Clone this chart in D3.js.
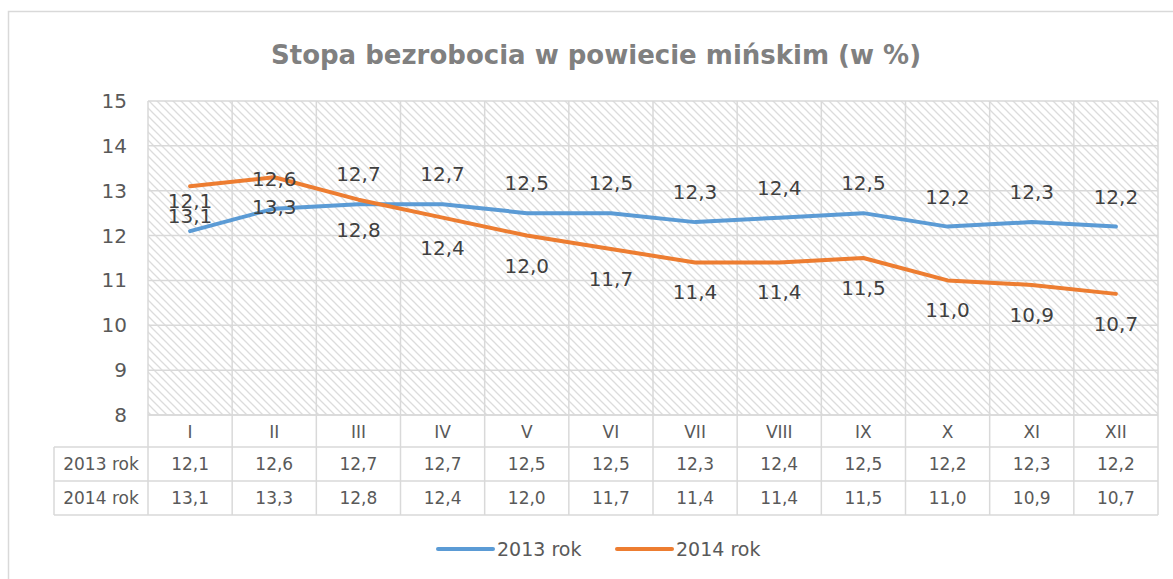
<!DOCTYPE html>
<html>
<head>
<meta charset="utf-8">
<script src="https://cdn.jsdelivr.net/npm/d3@7"></script>
<style>
  body { margin: 0; background: #fff; }
  text { font-family: "DejaVu Sans", Verdana, sans-serif; }
</style>
</head>
<body>
<script>
var width = 1173;
var height = 579;

// dane
var months = ["I", "II", "III", "IV", "V", "VI", "VII", "VIII", "IX", "X", "XI", "XII"];
var rok2013 = [12.1, 12.6, 12.7, 12.7, 12.5, 12.5, 12.3, 12.4, 12.5, 12.2, 12.3, 12.2];
var rok2014 = [13.1, 13.3, 12.8, 12.4, 12.0, 11.7, 11.4, 11.4, 11.5, 11.0, 10.9, 10.7];
var seriesNames = ["2013 rok", "2014 rok"];
var yTicks = [8, 9, 10, 11, 12, 13, 14, 15];

var colors = ["#5B9BD5", "#ED7D31"];
var fmt = function(v) { return v.toFixed(1).replace(".", ","); };

var svg = d3.select("body").append("svg")
  .attr("width", width)
  .attr("height", height);

// wzór kreskowania tła
var defs = svg.append("defs");
var pat = defs.append("pattern")
  .attr("id", "hatch")
  .attr("patternUnits", "userSpaceOnUse")
  .attr("width", 8).attr("height", 8);
pat.append("rect").attr("width", 8).attr("height", 8).attr("fill", "#fff");
pat.append("path")
  .attr("d", "M-2,-2 L10,10 M-2,6 L2,10 M6,-2 L10,2")
  .attr("stroke", "#dcdcdc")
  .attr("stroke-width", 1.3);

// ramka wykresu
svg.append("rect")
  .attr("x", 8.5).attr("y", 11.5)
  .attr("width", 1180).attr("height", 600)
  .attr("fill", "none")
  .attr("stroke", "#d9d9d9")
  .attr("stroke-width", 1.5);

var pLeft = 148, pRight = 1158, pTop = 101, pBottom = 415;

var x = d3.scaleBand().domain(months).range([pLeft, pRight]);
var y = d3.scaleLinear().domain([8, 15]).range([pBottom, pTop]);

// tytuł
svg.append("text")
  .attr("x", 596).attr("y", 64)
  .attr("text-anchor", "middle")
  .attr("font-size", 26)
  .attr("font-weight", "bold")
  .attr("fill", "#808080")
  .text("Stopa bezrobocia w powiecie mińskim (w %)");

// tło obszaru
svg.append("rect")
  .attr("x", pLeft).attr("y", pTop)
  .attr("width", pRight - pLeft).attr("height", pBottom - pTop)
  .attr("fill", "url(#hatch)");

// siatka pozioma
svg.append("g").selectAll("line")
  .data(yTicks)
  .enter().append("line")
  .attr("x1", pLeft).attr("x2", pRight)
  .attr("y1", function(d) { return y(d); })
  .attr("y2", function(d) { return y(d); })
  .attr("stroke", "#d9d9d9")
  .attr("stroke-width", 1.5);

// siatka pionowa (razem z tabelą)
var tableTop = pBottom, rowH = [32, 34, 34];
var tableBottom = tableTop + rowH[0] + rowH[1] + rowH[2];
var bounds = months.map(function(m) { return x(m); }).concat([pRight]);
svg.append("g").selectAll("line")
  .data(bounds)
  .enter().append("line")
  .attr("x1", function(d) { return d; })
  .attr("x2", function(d) { return d; })
  .attr("y1", pTop)
  .attr("y2", tableBottom)
  .attr("stroke", "#d9d9d9")
  .attr("stroke-width", 1.5);

// oś Y - etykiety
svg.append("g").selectAll("text")
  .data(yTicks)
  .enter().append("text")
  .attr("x", 127)
  .attr("y", function(d) { return y(d) + 7; })
  .attr("text-anchor", "end")
  .attr("font-size", 20)
  .attr("fill", "#595959")
  .text(function(d) { return d; });

// tabela danych
var rowY = [tableTop, tableTop + rowH[0], tableTop + rowH[0] + rowH[1], tableBottom];
var hl = svg.append("g");
hl.append("line").attr("x1", pLeft).attr("x2", pRight).attr("y1", rowY[0]).attr("y2", rowY[0]);
[1, 2, 3].forEach(function(i) {
  hl.append("line").attr("x1", 54).attr("x2", pRight).attr("y1", rowY[i]).attr("y2", rowY[i]);
});
hl.append("line").attr("x1", 54).attr("x2", 54).attr("y1", rowY[1]).attr("y2", rowY[3]);
hl.selectAll("line").attr("stroke", "#d9d9d9").attr("stroke-width", 1.5);

svg.append("g").selectAll("text")
  .data(months)
  .enter().append("text")
  .attr("x", function(d) { return x(d) + x.bandwidth() / 2; })
  .attr("y", rowY[0] + 23)
  .attr("text-anchor", "middle")
  .attr("font-size", 17)
  .attr("fill", "#595959")
  .text(function(d) { return d; });

[rok2013, rok2014].forEach(function(vals, s) {
  var g = svg.append("g");
  g.append("text")
    .attr("x", 101).attr("y", rowY[s + 1] + 23)
    .attr("text-anchor", "middle")
    .attr("font-size", 17)
    .attr("fill", "#595959")
    .text(seriesNames[s]);
  g.selectAll("text.v")
    .data(vals)
    .enter().append("text")
    .attr("class", "v")
    .attr("x", function(d, i) { return x(months[i]) + x.bandwidth() / 2; })
    .attr("y", rowY[s + 1] + 23)
    .attr("text-anchor", "middle")
    .attr("font-size", 17)
    .attr("fill", "#595959")
    .text(fmt);
});

// linie
var line = d3.line()
  .x(function(d, i) { return x(months[i]) + x.bandwidth() / 2; })
  .y(function(d) { return y(d); });

[rok2013, rok2014].forEach(function(vals, s) {
  svg.append("path")
    .datum(vals)
    .attr("d", line)
    .attr("fill", "none")
    .attr("stroke", colors[s])
    .attr("stroke-width", 4)
    .attr("stroke-linejoin", "round")
    .attr("stroke-linecap", "round");
});

// etykiety danych: 2013 nad linią, 2014 pod linią
[rok2013, rok2014].forEach(function(vals, s) {
  svg.append("g").selectAll("text")
    .data(vals)
    .enter().append("text")
    .attr("x", function(d, i) { return x(months[i]) + x.bandwidth() / 2; })
    .attr("y", function(d) { return y(d) + (s === 0 ? -30 : 30) + 7; })
    .attr("text-anchor", "middle")
    .attr("font-size", 20)
    .attr("fill", "#404040")
    .text(fmt);
});

// legenda
var legend = svg.append("g");
var legX = [438, 617];
seriesNames.forEach(function(n, s) {
  legend.append("line")
    .attr("x1", legX[s]).attr("x2", legX[s] + 55)
    .attr("y1", 549).attr("y2", 549)
    .attr("stroke", colors[s])
    .attr("stroke-width", 4)
    .attr("stroke-linecap", "round");
  legend.append("text")
    .attr("x", legX[s] + 59).attr("y", 556)
    .attr("font-size", 19)
    .attr("fill", "#595959")
    .text(n);
});
</script>
</body>
</html>
